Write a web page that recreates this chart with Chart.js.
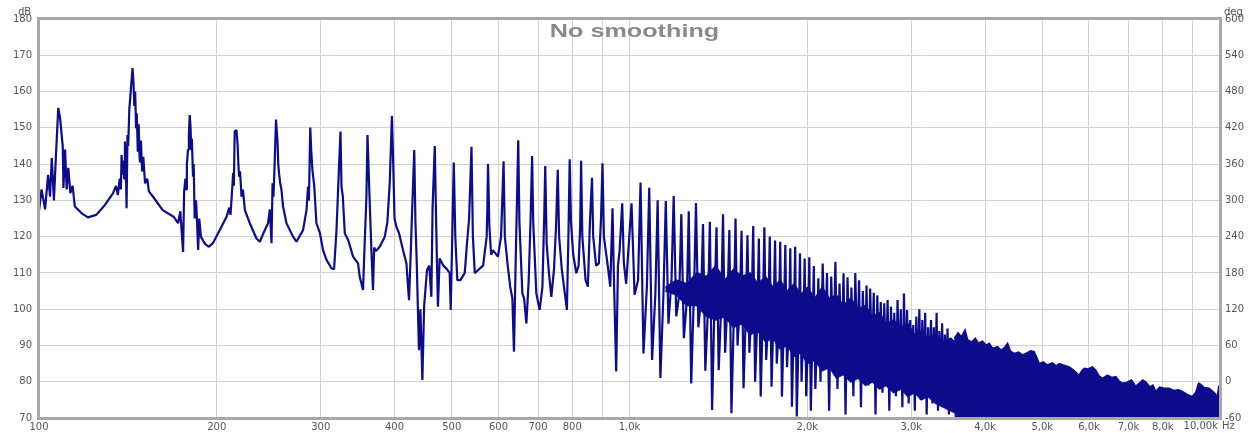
<!DOCTYPE html>
<html>
<head>
<meta charset="utf-8">
<script src="https://cdn.jsdelivr.net/npm/chart.js@4.4.0/dist/chart.umd.min.js"></script>
<style>
  html, body { margin: 0; padding: 0; background: #fff; }
  canvas { display: block; }
</style>
</head>
<body>
<canvas id="responseChart" width="1254" height="433"></canvas>
<script>
// Axis ticks
var freqTicks = [100, 200, 300, 400, 500, 600, 700, 800, 900, 1000, 2000, 3000, 4000, 5000, 6000, 7000, 8000, 9000, 10000];
var levelTicks = [70, 80, 90, 100, 110, 120, 130, 140, 150, 160, 170, 180];
var phaseTicks = [-60, 0, 60, 120, 180, 240, 300, 360, 420, 480, 540, 600];

// SPL trace as [Hz, dB], split by band
var lowTrace = [
  [100,127],[101,133],[102.4,127.5],[103.6,137],[104.4,131],[105.1,141.7],[106,130],[106.8,142],[107.8,155.5],[108.5,153],
  [109.7,145],[110,133.4],[110.7,144],[111.4,133],[112.1,139],[113,132],[114,134],[115,128.3],[118,126.5],[121,125.3],
  [125,126],[129,128.5],[133.5,132],[135,134],[136,131.5],[137,136],[137.6,133],[138,142.5],[138.5,137],[138.9,141],
  [139.4,136],[139.8,146.2],[140.3,140],[140.7,127.8],[141.2,148],[141.6,145],[142.2,155],[143,160],[144,166.5],[144.6,162],
  [145,156],[145.5,160],[146,150],[146.4,154],[147,143.4],[147.5,151],[148,142],[148.3,140.7],[148.8,146.5],[149.5,138],
  [150.2,142],[151.2,134.7],[152.5,136],[153.5,132.5],[156,131],[162,127.3],[169,125.5],[172,123.7],[173.5,127],[174.5,121],
  [175.4,115.8],[176.1,132.4],[177,136],[177.5,133],[178,140],[178.8,144],[179.4,148],[180,153.5],[180.6,150],[181,144],
  [181.5,147],[182.3,136.5],[182.8,140],[183.5,125],[184.5,130],[185.2,124],[186,116.3],[186.8,125],[188,120],[191,118],
  [194,117.2],[197,118.2],[202.4,121.8],[207.8,125.5],[210,128],[211,126],[212,131],[213.2,137.5],[213.8,134],[214.5,149],
  [216,149.4],[217,145],[217.6,140],[218.2,136.5],[219,138],[220.3,131],[221.5,133],[223.2,127.3],[227.5,123.7],[233.5,119.5],
  [236.6,118.6],[240,121],[244.3,123.7],[246,127.5],[247.6,118.2],[248.6,134.7],[249.5,131],[250.5,139],[252,152.3],[253.5,146],
  [254.2,140],[255,137.5],[256,135],[257.4,132.9],[259,128.3],[262.5,123.7],[269.3,120],[272.9,118.6],[280,121.8],[283.8,127.3],
  [285.5,133.8],[286.5,130],[288,150.1],[289,144],[290.4,138.4],[292.5,134],[295,123.7],[299,121],[302.7,116.3],[306.8,113.6],
  [312.8,111.3],[316,111],[319,121.8],[321,132.9],[324,149],[325.3,133.8],[327,131],[329.5,120.9],[334,119],[340.3,114.5],
  [347,112.6],[349.2,109],[353.8,105.3],[355.5,115],[358.5,131],[360,148],[362.5,133],[365.5,116.3],[367.8,105.3],[369.5,117],
  [372,116],[377.6,117.2],[385.1,120],[389,124],[392.6,134.7],[396,153.3]
];

var midTrace = [
  [398,140],[400,125],[403,122.7],[407,121],[413.5,116.3],[419,112.6],[423.3,102.5],[426,115],[428,125],[432,143.9],
  [434,124],[436,114],[440,88.7],[442.5,100],[445.9,80.5],[449,101],[454,110.8],[458,112],[461.8,103.4],[464,128],
  [468,145],[470,128],[472,113],[473.8,100.7],[477,114],[484,112],[491,111],[496,110],[498,99.8],[501,120],
  [504,140.4],[507,120],[511,108],[517.2,108],[526,110],[530.7,118.2],[535,125],[540,144.8],[543,120],[547,109.9],
  [556,111],[565,112],[573,120],[574.5,128],[576,140],[579,123],[583,115],[587.1,116.3],[598.7,114.5],[606,120],
  [612,140.8],[615,120],[622,112],[628,106.2],[633.3,103],[637.3,88.3],[641,110],[648,146.6],[651,124],[658.5,104.3],
  [663,103],[668.9,96.1],[675,108],[680,125],[684,142.2],[687,124],[695.4,104.3],[704.4,99.8],[712,106],[717,125],
  [720,139.5],[724,118],[730.5,109.9],[737.3,103.4],[745,111],[751,123],[756,138.4],[760,120],[768,111],[783.4,99.8],
  [788,120],[792,141.3],[796,124],[803,115],[812.6,109.9],[820,112],[825,123],[828,140.9],[832,120],[842.6,108],
  [850.2,106.2],[857,124],[864,136.2],[868,120],[878,112],[887.4,112.6],[895,125],[900,140.2],[905,120],[919.1,111.7],
  [927.7,106.2],[936,127.8],[940,112],[949.4,82.8],[956,112],[962,116],[972,129.2],[978,113],[987,107]
];

// 1-2 kHz: peak, dip, shoulder for each comb tooth
var combTrace = [
  [1008,129.2],[1020,104],[1034,108],[1044,134.9],[1056,87.8],[1070,106],[1080,133.5],[1092,86],[1106,104],
  [1116,130],[1128,81],[1142,105],[1152,129.8],[1164,96],[1178,108],[1188,131.2],[1200,98],[1214,104],
  [1224,126.2],[1236,92],[1250,102],[1260,127],[1272,79.5],[1286,105],[1296,129.3],[1308,95],[1322,103],
  [1332,123.5],[1344,83],[1358,100],[1368,124.1],[1380,72.2],[1394,104],[1404,122.6],[1416,83.2],[1430,101],
  [1440,126.2],[1452,88],[1466,103],[1476,121.8],[1488,71.3],[1502,98],[1512,125],[1524,90],[1538,102],
  [1548,121.6],[1560,78.2],[1574,99],[1584,120.4],[1596,88],[1610,101],[1620,122.9],[1632,80],[1646,97],
  [1656,119.5],[1668,75.9],[1682,100],[1692,122.6],[1704,86],[1718,98],[1728,120],[1740,78.6],[1754,99],
  [1764,118.9],[1776,85],[1790,96],[1800,118.6],[1812,75.9],[1826,98],[1836,117.7],[1848,84],[1862,95],
  [1872,116.8],[1884,73.1],[1898,97],[1908,117.2],[1920,70.4],[1934,94],[1944,115.4],[1956,80],[1970,96],
  [1980,114],[1992,76],[2006,93],[2016,114.3],[2028,72],[2042,95],[2052,111.9],[2064,78],[2078,92]
];

// 2-3.6 kHz: peak and dip for each tooth
var highTrace = [
  [2088,108.5],[2106,80],[2124,112.6],[2142,88],[2160,110],[2178,72],[2196,109],[2214,85],[2232,113.1],[2250,78],
  [2268,107.1],[2286,86],[2304,109.9],[2322,71],[2340,108.8],[2358,84],[2376,106],[2394,76],[2412,110],[2430,87],
  [2448,108],[2466,73],[2484,105],[2502,82],[2520,106.5],[2538,79],[2556,105.7],[2574,85],[2592,104.5],[2610,71],
  [2628,103.8],[2646,83],[2664,102],[2682,77],[2700,101.6],[2718,84],[2736,102.5],[2754,72],[2772,100.7],[2790,82],
  [2808,99],[2826,76],[2844,102.5],[2862,83],[2880,100],[2898,73],[2916,104.3],[2934,80],[2952,99.8],[2970,74],
  [2988,97],[3006,81],[3024,95.6],[3042,72],[3060,98],[3078,79],[3096,100],[3114,75],[3132,97],[3150,80],
  [3168,99],[3186,71],[3204,95],[3222,78],[3240,97],[3258,74],[3276,95],[3294,79],[3312,99],[3330,72],
  [3348,94],[3366,77],[3384,96.1],[3402,73],[3420,93],[3438,76],[3456,94.7],[3474,71],[3492,92],[3510,75],
  [3528,91],[3546,72],[3564,92],[3582,74]
];

// Solid core of the comb between 1.15 and 3.6 kHz: upper and lower edges
var bodyUpper = [
  [1150,106],[1200,108],[1250,107],[1300,110],[1350,109],[1400,112],[1450,108],[1500,111],[1550,109],[1600,110],
  [1650,107],[1700,109],[1750,106],[1800,108],[1850,105],[1900,107],[1950,104],[2000,106],[2060,103],[2120,106],
  [2180,103],[2240,104],[2300,101],[2370,103],[2440,100],[2510,101],[2580,98],[2650,99],[2720,96],[2800,97],
  [2880,95],[2960,96],[3040,93],[3120,94],[3200,92],[3300,93],[3400,91],[3500,92],[3600,90]
];
var bodyLower = [
  [1150,105],[1200,104],[1250,101],[1300,101],[1350,98],[1400,97],[1450,98],[1500,95],[1550,96],[1600,93],
  [1650,94],[1700,91],[1750,92],[1800,89],[1850,90],[1900,87],[1950,88],[2000,85],[2060,86],[2120,83],
  [2180,84],[2240,81],[2300,82],[2370,80],[2440,81],[2510,79],[2580,80],[2650,78],[2720,79],[2800,77],
  [2880,78],[2960,76],[3040,77],[3120,75],[3200,76],[3300,74],[3400,73],[3500,72],[3600,71]
];

// Upper edge of the solid comb from 3.5 kHz to 10 kHz
var denseEdge = [
  [3550,92],[3600,93.5],[3650,92.4],[3700,94.3],[3740,91.5],[3800,91],[3850,92],[3900,90.6],[3960,91.2],[4020,90.1],
  [4066,90.6],[4120,89.2],[4200,89.7],[4260,88.7],[4320,89.5],[4367,90.6],[4420,88.4],[4482,87.8],[4560,88.2],[4630,87.4],
  [4700,87.9],[4780,88.5],[4845,88.3],[4900,86.5],[4940,85],[5020,85.5],[5103,84.6],[5200,85.2],[5280,84.4],[5341,85],
  [5430,84.6],[5554,84.1],[5650,83.2],[5774,81.8],[5830,83],[5888,83.7],[5980,83.5],[6080,84.1],[6162,83.2],[6240,81.6],
  [6321,80.9],[6450,81.8],[6560,81.2],[6661,81.4],[6750,80.2],[6835,79.6],[6950,79.8],[7080,80.5],[7201,78.8],[7300,79.6],
  [7400,80.5],[7487,80],[7600,78.6],[7700,79.1],[7784,77.3],[7900,78.5],[8050,78.2],[8199,78.2],[8350,77.6],[8500,77.8],
  [8636,77.3],[8800,76.5],[8979,75.9],[9100,77.2],[9200,79.6],[9276,79.3],[9400,78.4],[9581,78.2],[9700,77.5],[9800,76.8],
  [9900,75.9],[9950,78.7],[10000,78.5]
];

var traceColor = '#0c0c8c';
var tickFont = { family: '"DejaVu Sans", Verdana, sans-serif', size: 10 };
var tickColor = '#555555';
var gridColor = '#d2d2d2';

function toPoints(rows) {
    return rows.map(function (r) { return { x: r[0], y: r[1] }; });
}

function setTicks(values) {
    return function (scale) {
        scale.ticks = values.map(function (v) { return { value: v }; });
    };
}

function freqLabel(value) {
    if (value === 900 || value === 9000 || value === 10000) return '';
    if (value >= 1000) return (value / 1000) + ',0k';
    return String(value);
}

// Frame, title and unit labels
var decorPlugin = {
    id: 'decor',
    afterDatasetsDraw: function (chart) {
        var ctx = chart.ctx;
        var a = chart.chartArea;
        ctx.save();
        ctx.strokeStyle = '#a8a8a8';
        ctx.lineWidth = 3;
        ctx.strokeRect(a.left - 0.5, a.top - 0.5, a.right - a.left + 1, a.bottom - a.top + 1);

        ctx.fillStyle = '#8a8a8a';
        ctx.font = 'bold 18px "Liberation Sans", Arial, sans-serif';
        ctx.textAlign = 'center';
        ctx.textBaseline = 'alphabetic';
        ctx.translate((a.left + a.right) / 2 + 5, 36.5);
        ctx.scale(1.4, 1);
        ctx.fillText('No smoothing', 0, 0);
        ctx.restore();

        ctx.save();
        ctx.fillStyle = tickColor;
        ctx.font = '10px "DejaVu Sans", Verdana, sans-serif';
        ctx.textBaseline = 'alphabetic';
        ctx.textAlign = 'left';
        ctx.fillText('dB', 18, 15);
        ctx.fillText('deg', 1224, 15);
        ctx.textBaseline = 'top';
        ctx.fillText('Hz', 1222, a.bottom + 3);
        ctx.textAlign = 'right';
        var x10k = chart.scales.x.getPixelForValue(10000);
        ctx.fillText('10,00k', x10k - 2, a.bottom + 3);
        ctx.restore();
    }
};

new Chart(document.getElementById('responseChart'), {
    type: 'line',
    data: {
        datasets: [{
            label: 'SPL',
            data: toPoints(lowTrace.concat(midTrace, combTrace, highTrace)),
            borderColor: traceColor,
            borderWidth: 2.2,
            borderJoinStyle: 'bevel',
            pointRadius: 0,
            tension: 0,
            fill: false
        }, {
            label: 'SPL dense',
            data: toPoints(denseEdge),
            borderColor: traceColor,
            backgroundColor: traceColor,
            borderWidth: 1.5,
            pointRadius: 0,
            tension: 0,
            fill: 'start'
        }, {
            label: 'body lower',
            data: toPoints(bodyLower),
            borderColor: traceColor,
            borderWidth: 1.5,
            pointRadius: 0,
            tension: 0,
            fill: false
        }, {
            label: 'body upper',
            data: toPoints(bodyUpper),
            borderColor: traceColor,
            backgroundColor: traceColor,
            borderWidth: 1.5,
            pointRadius: 0,
            tension: 0,
            fill: '-1'
        }]
    },
    options: {
        responsive: false,
        devicePixelRatio: 1,
        animation: false,
        layout: { padding: { top: 19, left: 0, right: 0, bottom: 0 } },
        plugins: {
            legend: { display: false },
            tooltip: { enabled: false },
            title: { display: false }
        },
        scales: {
            x: {
                type: 'logarithmic',
                min: 100,
                max: 10000,
                afterBuildTicks: setTicks(freqTicks),
                afterFit: function (scale) { scale.height = 15; },
                grid: { color: gridColor, lineWidth: 1, drawTicks: false },
                border: { display: false },
                ticks: {
                    autoSkip: false,
                    maxRotation: 0,
                    padding: 3,
                    color: tickColor,
                    font: tickFont,
                    callback: freqLabel
                }
            },
            y: {
                position: 'left',
                min: 70,
                max: 180,
                afterBuildTicks: setTicks(levelTicks),
                afterFit: function (scale) { scale.width = 39; },
                grid: { color: gridColor, lineWidth: 1, drawTicks: false },
                border: { display: false },
                ticks: { padding: 7, color: tickColor, font: tickFont }
            },
            yPhase: {
                position: 'right',
                min: -60,
                max: 600,
                afterBuildTicks: setTicks(phaseTicks),
                afterFit: function (scale) { scale.width = 34; },
                grid: { drawOnChartArea: false, drawTicks: false },
                border: { display: false },
                ticks: { padding: 5, color: tickColor, font: tickFont }
            }
        }
    },
    plugins: [decorPlugin]
});
</script>
</body>
</html>
